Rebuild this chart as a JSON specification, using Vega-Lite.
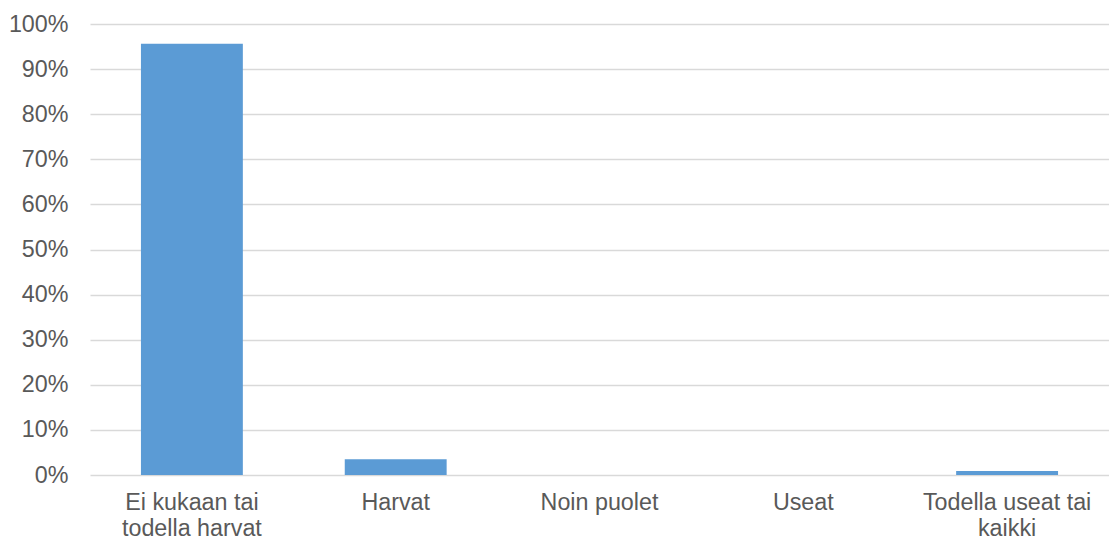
{
  "$schema": "https://vega.github.io/schema/vega-lite/v6.json",
  "width": 1019,
  "height": 451,
  "autosize": "none",
  "padding": {"left": 90, "top": 24, "right": 0, "bottom": 66},
  "background": "white",
  "config": {
    "view": {"stroke": null},
    "font": "Liberation Sans"
  },
  "data": {
    "values": [
      {"kategoria": "Ei kukaan tai todella harvat", "osuus": 0.956},
      {"kategoria": "Harvat", "osuus": 0.035},
      {"kategoria": "Noin puolet", "osuus": 0.0},
      {"kategoria": "Useat", "osuus": 0.0},
      {"kategoria": "Todella useat tai kaikki", "osuus": 0.009}
    ]
  },
  "mark": {"type": "bar", "color": "#5b9bd5"},
  "encoding": {
    "x": {
      "field": "kategoria",
      "type": "nominal",
      "sort": null,
      "title": null,
      "scale": {"paddingInner": 0.5, "paddingOuter": 0.25},
      "axis": {
        "labelAngle": 0,
        "domain": false,
        "ticks": false,
        "labelFont": "Liberation Sans",
        "labelFontSize": 23.3,
        "labelColor": "#595959",
        "labelPadding": 16,
        "labelLineHeight": 26,
        "labelLimit": 300,
        "labelExpr": "datum.value == 'Ei kukaan tai todella harvat' ? ['Ei kukaan tai', 'todella harvat'] : datum.value == 'Todella useat tai kaikki' ? ['Todella useat tai', 'kaikki'] : datum.value"
      }
    },
    "y": {
      "field": "osuus",
      "type": "quantitative",
      "title": null,
      "scale": {"domain": [0, 1], "nice": false},
      "axis": {
        "values": [0, 0.1, 0.2, 0.3, 0.4, 0.5, 0.6, 0.7, 0.8, 0.9, 1],
        "format": ".0%",
        "domain": false,
        "ticks": false,
        "grid": true,
        "gridColor": "#d9d9d9",
        "gridWidth": 1.5,
        "labelFont": "Liberation Sans",
        "labelFontSize": 23.3,
        "labelColor": "#595959",
        "labelPadding": 22
      }
    }
  }
}
